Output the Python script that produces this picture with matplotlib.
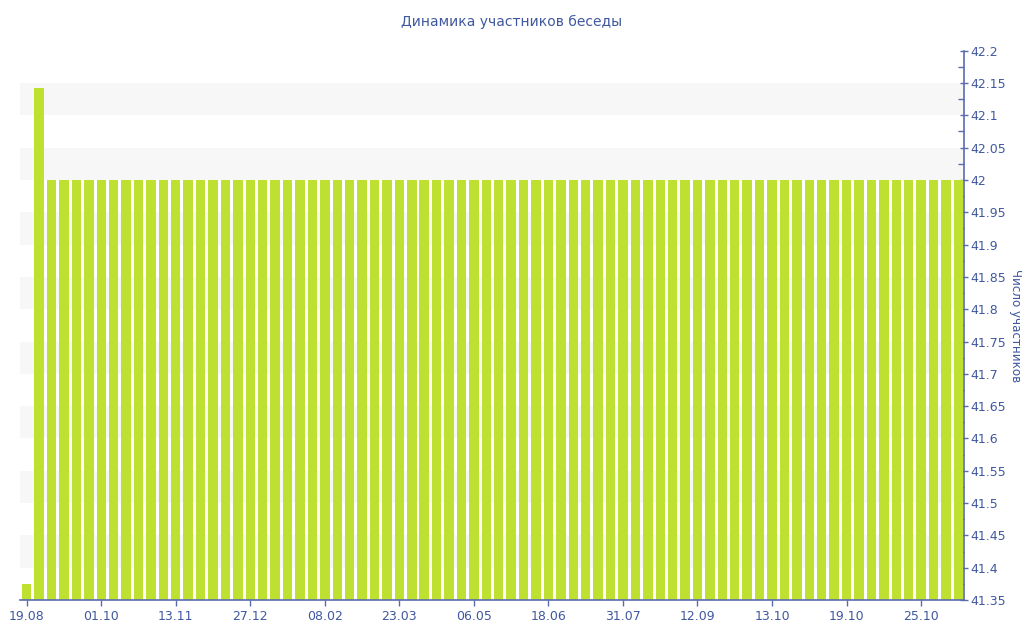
import matplotlib
matplotlib.use("Agg")
import matplotlib.pyplot as plt
from matplotlib.ticker import MultipleLocator

title = "Динамика участников беседы"
ylabel = "Число участников"

values = [
    41.375, 42.143, 42, 42, 42, 42, 42, 42, 42, 42,
    42, 42, 42, 42, 42, 42, 42, 42, 42, 42,
    42, 42, 42, 42, 42, 42, 42, 42, 42, 42,
    42, 42, 42, 42, 42, 42, 42, 42, 42, 42,
    42, 42, 42, 42, 42, 42, 42, 42, 42, 42,
    42, 42, 42, 42, 42, 42, 42, 42, 42, 42,
    42, 42, 42, 42, 42, 42, 42, 42, 42, 42,
    42, 42, 42, 42, 42, 42,
]
tick_labels = ["19.08", "01.10", "13.11", "27.12", "08.02", "23.03", "06.05",
               "18.06", "31.07", "12.09", "13.10", "19.10", "25.10"]
tick_positions = [0, 6, 12, 18, 24, 30, 36, 42, 48, 54, 60, 66, 72]
y_min, y_max, y_step = 41.35, 42.2, 0.05

TEXT = "#4058a0"
AXC = "#5a6cae"
BAR = "#bde031"
BAND = "#f7f7f7"

fig = plt.figure(figsize=(10.24, 6.4), dpi=100)
ax = fig.add_axes([20 / 1024, 40 / 640, 943.7 / 1024, (600 - 50.7) / 640])

# alternating bands
n_steps = int(round((y_max - y_min) / y_step))
for i in range(n_steps):
    lo = y_min + i * y_step
    if i % 2 == 1:
        ax.axhspan(lo, lo + y_step, color=BAND, zorder=0, lw=0)

x = list(range(len(values)))
ax.bar(x, values, width=0.76, color=BAR, zorder=2, bottom=0)
ax.set_ylim(y_min, y_max)
ax.set_xlim(-0.54, len(values) - 0.57)

ax.yaxis.tick_right()
ax.yaxis.set_label_position("right")
ax.yaxis.set_major_locator(MultipleLocator(y_step))
ax.yaxis.set_minor_locator(MultipleLocator(y_step / 2))
ax.yaxis.set_major_formatter(matplotlib.ticker.FuncFormatter(
    lambda v, p: ("%.2f" % v).rstrip("0").rstrip(".")))

ax.set_xticks(tick_positions)
ax.set_xticklabels(tick_labels)

for s in ["left", "top"]:
    ax.spines[s].set_visible(False)
for s in ["right", "bottom"]:
    ax.spines[s].set_color(AXC)
    ax.spines[s].set_linewidth(1.2)

ax.tick_params(axis="y", which="major", direction="inout", length=6, width=1,
               color=AXC, labelcolor=TEXT, labelsize=9, pad=2)
ax.tick_params(axis="y", which="minor", direction="in", length=4, width=1,
               color=AXC)
ax.tick_params(axis="x", which="major", direction="out", length=4, width=1,
               color=AXC, labelcolor=TEXT, labelsize=9, pad=3)

ax.set_ylabel(ylabel, rotation=270, color=TEXT, fontsize=8.6, labelpad=11)
fig.text(0.5, 1 - 22 / 640, title, ha="center", va="center",
         color=TEXT, fontsize=10)

fig.savefig("out.png", dpi=100)
